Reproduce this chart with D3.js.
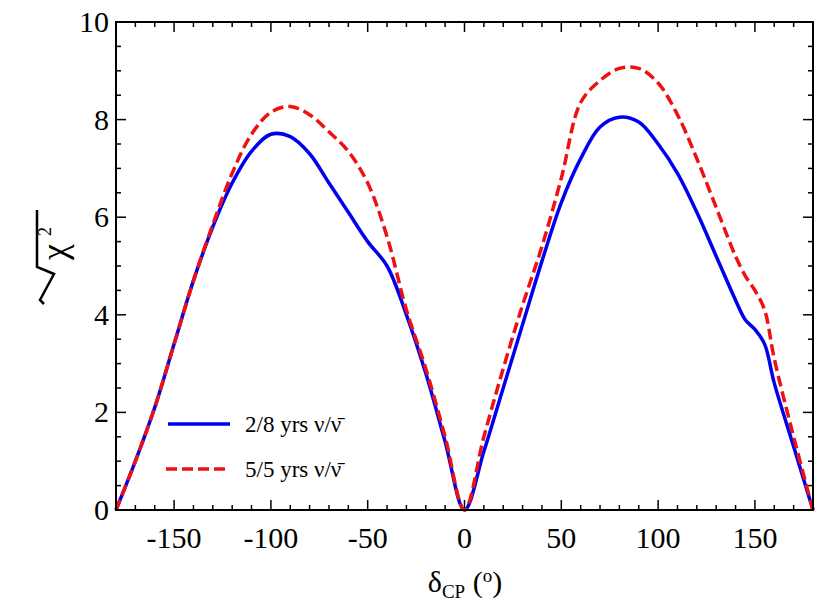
<!DOCTYPE html>
<html><head><meta charset="utf-8">
<script src="https://cdn.jsdelivr.net/npm/d3@7"></script>
<style>body{margin:0;background:#fff}text{font-family:"Liberation Serif","Times New Roman","DejaVu Serif",serif}</style>
</head><body><svg id="c" width="822" height="613"></svg>
<script>
// delta_CP (deg) and sqrt(chi^2) for both runs
const deltaCP = [-180,-170,-160,-150,-140,-130,-120,-110,-100,-90,-80,-70,-60,-50,-40,-30,-20,-10,0,10,20,30,40,50,60,70,80,90,100,110,120,130,140,145,150,155,160,170,180];
const run28 = [0,1.0,2.1,3.4,4.7,5.8,6.7,7.35,7.7,7.65,7.3,6.7,6.1,5.5,5.0,4.0,2.8,1.4,0,1.2,2.5,3.8,5.1,6.3,7.2,7.85,8.05,7.95,7.5,6.9,6.1,5.2,4.3,3.9,3.7,3.4,2.6,1.3,0];
const run55 = [0,1.0,2.1,3.4,4.7,5.85,6.9,7.7,8.15,8.27,8.1,7.75,7.35,6.7,5.6,4.1,2.9,1.5,0,1.5,2.9,4.2,5.4,6.8,8.35,8.8,9.05,9.05,8.75,8.1,7.2,6.2,5.2,4.8,4.5,4.1,3.1,1.5,0];
const xTicks = [-150,-100,-50,0,50,100,150];
const yTicks = [0,2,4,6,8,10];

const svg = d3.select("#c");
const L=116,R=813,T=22,B=510;
const x = d3.scaleLinear().domain([-180,180]).range([L,R]);
const y = d3.scaleLinear().domain([0,10]).range([B,T]);

// ticks inward on all sides
const g = svg.append("g").attr("stroke","#000").attr("stroke-width",1.5);
d3.range(-180,181,10).forEach(v=>{
  const len = v%50===0 ? 10 : 5;
  g.append("line").attr("x1",x(v)).attr("x2",x(v)).attr("y1",B).attr("y2",B-len);
  g.append("line").attr("x1",x(v)).attr("x2",x(v)).attr("y1",T).attr("y2",T+len);
});
d3.range(0,10.01,0.5).forEach(v=>{
  const len = v%2===0 ? 10 : 5;
  g.append("line").attr("y1",y(v)).attr("y2",y(v)).attr("x1",L).attr("x2",L+len);
  g.append("line").attr("y1",y(v)).attr("y2",y(v)).attr("x1",R).attr("x2",R-len);
});

xTicks.forEach(v=>svg.append("text").attr("x",x(v)).attr("y",B+38).attr("text-anchor","middle").attr("font-size",30).text(v));
yTicks.forEach(v=>svg.append("text").attr("x",L-7).attr("y",y(v)+10).attr("text-anchor","end").attr("font-size",30).text(v));

const line = d3.line().x((d,i)=>x(deltaCP[i])).y(d=>y(d)).curve(d3.curveCatmullRom.alpha(0.5));
svg.append("path").datum(run28).attr("d",line).attr("fill","none").attr("stroke","#0000ee").attr("stroke-width",3.5);
svg.append("path").datum(run55).attr("d",line).attr("fill","none").attr("stroke","#ee1111").attr("stroke-width",3.5).attr("stroke-dasharray","11,5");

svg.append("rect").attr("x",L).attr("y",T).attr("width",R-L).attr("height",B-T).attr("fill","none").attr("stroke","#000").attr("stroke-width",2);

// legend
svg.append("line").attr("x1",168).attr("x2",230).attr("y1",424).attr("y2",424).attr("stroke","#0000ee").attr("stroke-width",3.5);
svg.append("line").attr("x1",166).attr("x2",230).attr("y1",469).attr("y2",469).attr("stroke","#ee1111").attr("stroke-width",3.5).attr("stroke-dasharray","11,5");
svg.append("text").attr("x",245).attr("y",432).attr("font-size",23).text("2/8 yrs ν/ν̄");
svg.append("text").attr("x",245).attr("y",477).attr("font-size",23).text("5/5 yrs ν/ν̄");

// x label
const xl = svg.append("text").attr("x",465).attr("y",592).attr("text-anchor","middle").attr("font-size",30);
xl.append("tspan").text("δ");
xl.append("tspan").attr("font-size",19).attr("dy",6).text("CP");
xl.append("tspan").attr("dy",-6).text(" (");
xl.append("tspan").attr("font-size",19).attr("dy",-10).text("o");
xl.append("tspan").attr("dy",10).text(")");

// y label: sqrt(chi^2)
const yl = svg.append("g").attr("transform","translate(52,262) rotate(-90)");
yl.append("path").attr("d","M-42,-8 L-38,-12 L-12,2 L-5,-15 L52,-15").attr("fill","none").attr("stroke","#000").attr("stroke-width",2.5).attr("stroke-linejoin","miter");
yl.append("text").attr("x",2).attr("y",14).attr("font-size",36).text("χ");
yl.append("text").attr("x",26).attr("y",-1).attr("font-size",18).text("2");
</script></body></html>
